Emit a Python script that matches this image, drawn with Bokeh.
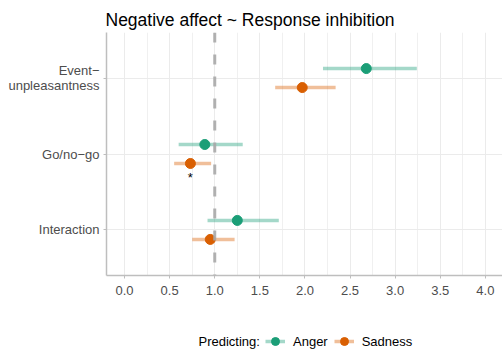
from bokeh.plotting import figure
from bokeh.models import ColumnDataSource, Span, Legend, LegendItem, FixedTicker, Label
from bokeh.layouts import column
from bokeh.embed import file_html
from bokeh.resources import INLINE
from bokeh.core.properties import value

# ---- data ----
categories = ["Event\u2212\nunpleasantness", "Go/no\u2212go", "Interaction"]
outcomes = ["Anger", "Sadness"]
colors = {"Anger": "#1B9E77", "Sadness": "#D95F02"}

anger_est = [2.68, 0.89, 1.25]
anger_low = [2.20, 0.60, 0.92]
anger_high = [3.24, 1.31, 1.71]

sadness_est = [1.97, 0.73, 0.95]
sadness_low = [1.67, 0.55, 0.75]
sadness_high = [2.34, 0.96, 1.22]

sadness_sig = ["", "*", ""]

x_ticks = [0.0, 0.5, 1.0, 1.5, 2.0, 2.5, 3.0, 3.5, 4.0]
ref_value = 1.0
legend_title = "Predicting:"

FONT = "Liberation Sans"

n = len(categories)
cat_pos = [n - i for i in range(n)]  # top to bottom
dodge = {"Anger": 0.125, "Sadness": -0.125}

p = figure(width=502, height=320, x_range=(-0.2, 4.19), y_range=(0.4, 3.6),
           output_backend="svg", toolbar_location=None,
           min_border_left=106, min_border_right=0, min_border_top=32,
           min_border_bottom=45)

p.title.text = "Negative affect ~ Response inhibition"
p.title.text_font = FONT
p.title.text_font_size = "17.5px"
p.title.text_font_style = "normal"
p.title.text_color = "#000000"
p.title.align = "left"
p.title.offset = -1
p.title.standoff = 6

p.outline_line_color = None
p.background_fill_color = "white"

# axes
for ax in (p.xaxis[0], p.yaxis[0]):
    ax.axis_line_color = "#BEBEBE"
    ax.axis_line_width = 1.5
    ax.major_tick_line_color = "#BEBEBE"
    ax.major_tick_in = 0
    ax.major_tick_out = 3
    ax.minor_tick_line_color = None
    ax.major_label_text_font = FONT
    ax.major_label_text_font_size = "13px"
    ax.major_label_text_color = "#4D4D4D"

p.xaxis.ticker = FixedTicker(ticks=x_ticks,
                             minor_ticks=[t + 0.25 for t in [-0.5] + x_ticks])
p.xaxis.major_label_overrides = {t: f"{t:.1f}" for t in x_ticks}
p.xaxis.major_label_standoff = 6

p.yaxis.ticker = FixedTicker(ticks=cat_pos)
p.yaxis.major_label_overrides = {pos: c for pos, c in zip(cat_pos, categories)}
p.yaxis.major_label_standoff = 4
p.yaxis.major_label_text_line_height = 0.95

p.xgrid.grid_line_color = "#EBEBEB"
p.xgrid.grid_line_width = 1
p.xgrid.minor_grid_line_color = "#F0F0F0"
p.xgrid.minor_grid_line_width = 1
p.ygrid.grid_line_color = "#EBEBEB"
p.ygrid.grid_line_width = 1

data = {
    "Anger": (anger_est, anger_low, anger_high),
    "Sadness": (sadness_est, sadness_low, sadness_high),
}

sources = {}
for name in outcomes:
    est, lo, hi = data[name]
    ys = [c + dodge[name] for c in cat_pos]
    sources[name] = ColumnDataSource(dict(est=est, lo=lo, hi=hi, y=ys))
    p.segment(x0="lo", x1="hi", y0="y", y1="y", source=sources[name],
              line_color=colors[name], line_alpha=0.4, line_width=3.5)

vline = Span(location=ref_value, dimension="height", line_color="#A8A8A8",
             line_width=3, line_dash="10 12", line_alpha=0.9)
p.add_layout(vline)

for name in outcomes:
    p.scatter(x="est", y="y", source=sources[name], size=10, marker="circle",
              fill_color=colors[name], line_color=colors[name])

# significance marks
sig_y = [c + dodge["Sadness"] - 0.19 for c in cat_pos]
sig_src = ColumnDataSource(dict(x=sadness_est, y=sig_y, t=sadness_sig))
p.text(x="x", y="y", text="t", source=sig_src, text_align="center",
       text_baseline="middle", text_font=value(FONT), text_font_size="13px",
       text_color="#000000")

# ---- legend strip (frame is aligned with the main plot's frame) ----
# x range maps 1:1 onto page pixels; y range chosen so that the data
# glyphs (only used to build legend entries) fall outside the strip.
lg = figure(width=502, height=36, x_range=(106, 502), y_range=(100, 136),
            output_backend="svg", toolbar_location=None,
            min_border_left=106, min_border_right=0, min_border_top=0,
            min_border_bottom=0)
lg.axis.visible = False
lg.grid.visible = False
lg.outline_line_color = None

items = []
for name in outcomes:
    seg = lg.segment(x0="lo", x1="hi", y0="y", y1="y", source=sources[name],
                     line_color=colors[name], line_alpha=0.4, line_width=3.5)
    pts = lg.scatter(x="est", y="y", source=sources[name], size=10, marker="circle",
                     fill_color=colors[name], line_color=colors[name])
    items.append(LegendItem(label=name, renderers=[seg, pts], index=0))

lg.add_layout(Label(x=198, y=115, text=legend_title, text_font=FONT,
                    text_font_size="13px", text_color="#000000",
                    text_baseline="middle", text_align="left"))

legend = Legend(items=items, orientation="horizontal", location=(265 - 106, 5))
legend.label_text_font = FONT
legend.label_text_font_size = "13px"
legend.label_text_color = "#000000"
legend.border_line_color = None
legend.background_fill_alpha = 0
legend.glyph_width = 20
legend.glyph_height = 20
legend.spacing = 6
legend.label_standoff = 8
legend.padding = 0
legend.margin = 0
lg.add_layout(legend, "center")

open("out.html", "w").write(file_html(column(p, lg, spacing=0), INLINE))
